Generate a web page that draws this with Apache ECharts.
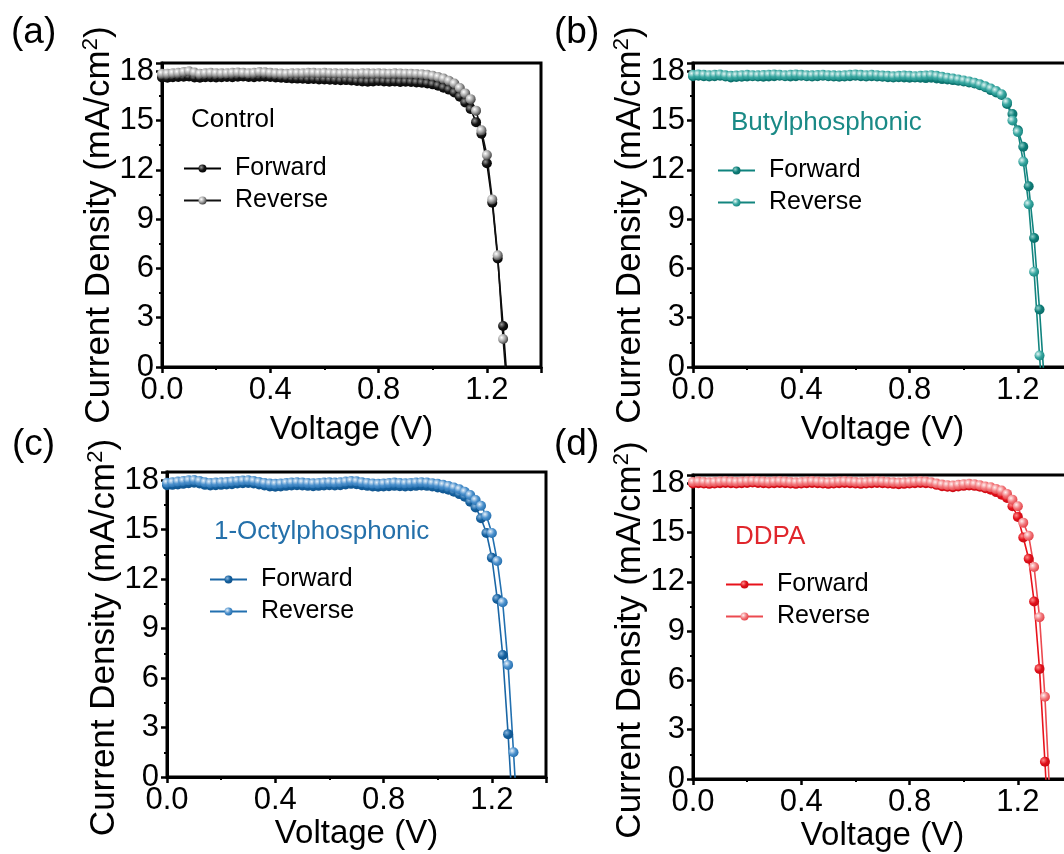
<!DOCTYPE html>
<html>
<head>
<meta charset="utf-8">
<title>J-V curves</title>
<script src="https://cdn.jsdelivr.net/npm/echarts@6/dist/echarts.min.js"></script>
<style>
    html,body{margin:0;padding:0;background:#fff;}
    #jv_chart{width:1064px;height:854px;}
</style>
</head>
<body>
<div id="jv_chart"></div>
<script>
// 电压扫描点 (V)
var voltage=[0.00,0.02,0.04,0.06,0.08,0.10,0.12,0.14,0.16,0.18,
    0.20,0.22,0.24,0.26,0.28,0.30,0.32,0.34,0.36,0.38,
    0.40,0.42,0.44,0.46,0.48,0.50,0.52,0.54,0.56,0.58,
    0.60,0.62,0.64,0.66,0.68,0.70,0.72,0.74,0.76,0.78,
    0.80,0.82,0.84,0.86,0.88,0.90,0.92,0.94,0.96,0.98,
    1.00,1.02,1.04,1.06,1.08,1.10,1.12,1.14,1.16,1.18,
    1.20,1.22,1.24,1.26,1.28,1.30,1.32];

// (a) Control
var a_forward=[17.62,17.60,17.63,17.65,17.66,17.68,17.62,17.60,17.63,17.64,
    17.62,17.63,17.65,17.64,17.66,17.68,17.65,17.64,17.66,17.67,
    17.65,17.62,17.60,17.58,17.56,17.55,17.54,17.52,17.53,17.50,
    17.50,17.48,17.47,17.45,17.46,17.44,17.40,17.38,17.36,17.38,
    17.40,17.38,17.36,17.37,17.35,17.36,17.34,17.32,17.30,17.26,
    17.20,17.12,17.00,16.88,16.70,16.45,16.10,15.70,14.90,14.20,
    12.40,10.00,6.60,2.50,-2.00];
var a_reverse=[17.85,17.85,17.88,17.90,17.95,18.00,17.92,17.85,17.88,17.90,
    17.88,17.87,17.88,17.90,17.92,17.90,17.88,17.90,17.95,17.93,
    17.90,17.87,17.86,17.85,17.88,17.88,17.88,17.90,17.90,17.88,
    17.90,17.88,17.87,17.86,17.87,17.86,17.85,17.88,17.87,17.86,
    17.87,17.86,17.85,17.87,17.86,17.85,17.85,17.83,17.82,17.78,
    17.72,17.65,17.55,17.42,17.25,16.98,16.65,16.30,15.60,14.40,
    12.90,10.20,6.80,1.70,-2.50];

// (b) Butylphosphonic
var b_forward=[17.70,17.72,17.70,17.68,17.70,17.72,17.68,17.62,17.65,17.66,
    17.68,17.70,17.68,17.66,17.68,17.70,17.72,17.70,17.68,17.70,
    17.72,17.70,17.68,17.70,17.72,17.70,17.68,17.66,17.68,17.70,
    17.72,17.70,17.68,17.70,17.68,17.66,17.64,17.62,17.63,17.62,
    17.60,17.62,17.60,17.58,17.60,17.56,17.52,17.50,17.46,17.42,
    17.38,17.32,17.25,17.15,17.02,16.85,16.70,16.55,16.00,15.40,
    14.40,13.40,11.00,7.85,3.50,-1.50];
var b_reverse=[17.78,17.80,17.78,17.76,17.78,17.80,17.75,17.72,17.74,17.76,
    17.78,17.76,17.75,17.77,17.78,17.80,17.78,17.76,17.78,17.80,
    17.78,17.76,17.75,17.77,17.78,17.76,17.75,17.74,17.76,17.78,
    17.80,17.78,17.76,17.78,17.76,17.74,17.72,17.70,17.72,17.74,
    17.72,17.70,17.72,17.74,17.76,17.72,17.66,17.60,17.55,17.50,
    17.44,17.38,17.30,17.20,17.08,16.95,16.80,16.60,16.10,15.00,
    14.30,12.50,9.90,5.80,0.70,-4.00];

// (c) 1-Octylphosphonic
var c_forward=[17.70,17.72,17.74,17.78,17.82,17.85,17.80,17.72,17.68,17.70,
    17.72,17.74,17.76,17.80,17.82,17.84,17.80,17.74,17.68,17.62,
    17.60,17.62,17.66,17.68,17.70,17.68,17.66,17.64,17.66,17.68,
    17.70,17.68,17.70,17.74,17.78,17.76,17.70,17.66,17.62,17.60,
    17.62,17.64,17.66,17.64,17.62,17.64,17.66,17.68,17.66,17.62,
    17.56,17.50,17.42,17.30,17.16,17.00,16.70,16.35,15.70,14.80,
    13.30,10.80,7.40,2.60,-3.00];
var c_reverse=[17.85,17.88,17.92,17.96,18.00,18.02,17.96,17.88,17.84,17.86,
    17.88,17.90,17.93,17.96,17.98,18.00,17.96,17.90,17.84,17.80,
    17.78,17.80,17.84,17.86,17.88,17.86,17.84,17.82,17.84,17.86,
    17.88,17.86,17.88,17.92,17.96,17.94,17.88,17.84,17.80,17.78,
    17.80,17.83,17.86,17.84,17.82,17.84,17.86,17.88,17.86,17.82,
    17.78,17.72,17.65,17.56,17.45,17.30,17.10,16.80,16.45,15.85,
    14.80,13.10,10.60,6.80,1.50,-4.00];

// (d) DDPA
var d_forward=[17.98,18.00,17.98,17.96,17.98,18.00,18.02,18.00,17.98,18.00,
    18.02,18.04,18.02,18.00,17.98,18.00,18.02,18.00,17.98,17.96,
    17.98,18.00,18.02,18.00,17.98,17.96,17.98,18.00,18.02,18.00,
    17.98,17.96,17.98,18.00,18.02,18.00,17.98,17.96,17.94,17.96,
    17.98,18.00,18.02,18.00,17.98,17.90,17.82,17.78,17.76,17.80,
    17.84,17.86,17.84,17.78,17.70,17.60,17.46,17.30,17.10,16.60,
    15.95,14.70,13.40,10.80,6.70,1.05,-5.00];
var d_reverse=[18.08,18.10,18.08,18.06,18.08,18.10,18.12,18.10,18.08,18.10,
    18.12,18.14,18.12,18.10,18.08,18.10,18.12,18.10,18.08,18.06,
    18.08,18.10,18.12,18.10,18.08,18.06,18.08,18.10,18.12,18.10,
    18.08,18.06,18.08,18.10,18.12,18.10,18.08,18.06,18.04,18.06,
    18.08,18.10,18.12,18.10,18.06,17.98,17.92,17.88,17.86,17.90,
    17.94,17.96,17.94,17.88,17.80,17.75,17.65,17.55,17.35,17.00,
    16.60,15.60,14.80,12.90,9.85,5.00,-1.70];

// 坐标轴
var x_range=[0,1.4], x_step=0.4;
var y_range=[0,18.5], y_step=3;
var sample_names=['Control','Butylphosphonic','1-Octylphosphonic','DDPA'];
var panel_tags=['(a)','(b)','(c)','(d)'];

var font='"Liberation Sans", Arial, sans-serif';

// 各子图的位置与颜色
var panels=[
    {grid:{left:162,top:63,width:379,height:304}, fwd:a_forward, rev:a_reverse,
        f_line:'#000', f_mark:['#9a9a9a','#151515','#000'], r_line:'#111', r_mark:['#ffffff','#a0a0a0','#2a2a2a'],
        text_color:'#000', name_gap:46, y_shift:20, tag_pos:[11,14], note_pos:[191,107], legend_pos:[183,156]},
    {grid:{left:693,top:63,width:379,height:304}, fwd:b_forward, rev:b_reverse,
        f_line:'#0f837e', f_mark:['#8fd0ca','#0e7e79','#0a6864'], r_line:'#13857f', r_mark:['#e4f6f4','#3aa8a2','#127f79'],
        text_color:'#1a8a86', name_gap:46, y_shift:20, tag_pos:[554,14], note_pos:[731,110], legend_pos:[717,158]},
    {grid:{left:167,top:472,width:379,height:305}, fwd:c_forward, rev:c_reverse,
        f_line:'#1a66a5', f_mark:['#8ab6de','#14609e','#0f5088'], r_line:'#2270b0', r_mark:['#eaf2fa','#4c91cd','#1e68a8'],
        text_color:'#2470aa', name_gap:40, y_shift:26, tag_pos:[12,426], note_pos:[214,519], legend_pos:[209,567]},
    {grid:{left:693,top:475,width:379,height:304}, fwd:d_forward, rev:d_reverse,
        f_line:'#e8121b', f_mark:['#ff8a8a','#e0101a','#c40a12'], r_line:'#ec4a50', r_mark:['#fff0f0','#f27a7e','#e0363c'],
        text_color:'#e0262c', name_gap:40, y_shift:26, tag_pos:[554,426], note_pos:[735,524], legend_pos:[725,572]}
];

function sphere(c) {
    return {type:'radial',x:0.35,y:0.35,r:0.75,
        colorStops:[{offset:0,color:c[0]},{offset:0.5,color:c[1]},{offset:1,color:c[2]}]};
}

function make_series(idx,name,values,line_color,mark) {
    return {
        type:'line',name:name,xAxisIndex:idx,yAxisIndex:idx,
        data:values.map(function (j,i) { return [voltage[i],j]; }),
        symbol:'circle',symbolSize:10,showSymbol:true,clip:true,
        lineStyle:{color:line_color,width:1.6},
        itemStyle:{color:sphere(mark)},
        emphasis:{disabled:true}
    };
}

var grids=[],x_axes=[],y_axes=[],series=[],legends=[],graphics=[];

panels.forEach(function (p,k) {
    var g=p.grid;
    grids.push({left:g.left,top:g.top,width:g.width,height:g.height,show:true,
        borderColor:'#000',borderWidth:3,outerBoundsMode:'none'});

    x_axes.push({
        gridIndex:k,type:'value',min:x_range[0],max:x_range[1],interval:x_step,
        axisLine:{show:true,onZero:false,lineStyle:{color:'#000',width:3}},
        axisTick:{show:true,inside:false,length:6,lineStyle:{color:'#000',width:2.5}},
        minorTick:{show:true,splitNumber:2,length:3,lineStyle:{color:'#000',width:2}},
        splitLine:{show:false},
        axisLabel:{fontSize:31,fontFamily:font,color:'#000',margin:8,showMaxLabel:false,
            formatter:function (v) { return v.toFixed(1); }},
        name:'Voltage (V)',nameLocation:'middle',nameGap:p.name_gap,nameMoveOverlap:false,
        nameTextStyle:{fontSize:33,fontFamily:font,color:'#000'}
    });

    // 纵轴标题稍微往下移一点
    y_axes.push({
        gridIndex:k,type:'value',min:y_range[0],max:y_range[1],interval:y_step,
        axisLine:{show:true,onZero:false,lineStyle:{color:'#000',width:3}},
        axisTick:{show:true,inside:false,length:6,lineStyle:{color:'#000',width:2.5}},
        minorTick:{show:true,splitNumber:2,length:3,lineStyle:{color:'#000',width:2}},
        splitLine:{show:false},
        axisLabel:{fontSize:31,fontFamily:font,color:'#000',margin:8,showMaxLabel:false},
        name:'{t|Current Density (mA/cm}{s|2}{t|)}',nameLocation:'middle',nameGap:44,
        nameMoveOverlap:false,
        nameTextStyle:{fontSize:35,fontFamily:font,color:'#000',padding:[0,p.y_shift,0,0],
            rich:{t:{fontSize:35,fontFamily:font,color:'#000',lineHeight:38},
                s:{fontSize:22,fontFamily:font,color:'#000',lineHeight:22,verticalAlign:'top'}}}
    });

    var f_name=panel_tags[k]+'_Forward', r_name=panel_tags[k]+'_Reverse';
    series.push(make_series(k,f_name,p.fwd,p.f_line,p.f_mark));
    series.push(make_series(k,r_name,p.rev,p.r_line,p.r_mark));

    legends.push({
        data:[f_name,r_name],left:p.legend_pos[0],top:p.legend_pos[1],orient:'vertical',
        itemWidth:37,itemHeight:10,itemGap:7,padding:0,selectedMode:false,
        formatter:function (n) { return n.split('_')[1]; },
        textStyle:{fontSize:25,fontFamily:font,color:'#000',lineHeight:25,padding:[0,0,0,9]}
    });

    // 子图编号和样品名
    graphics.push({type:'text',left:p.tag_pos[0],top:p.tag_pos[1],
        style:{text:panel_tags[k],fontSize:37,fontFamily:font,fill:'#000'}});
    graphics.push({type:'text',left:p.note_pos[0],top:p.note_pos[1],
        style:{text:sample_names[k],fontSize:26,fontFamily:font,fill:p.text_color}});
});

var jv_chart=echarts.init(document.getElementById('jv_chart'),null,{renderer:'canvas'});
jv_chart.setOption({
    animation:false,
    backgroundColor:'#fff',
    grid:grids,
    xAxis:x_axes,
    yAxis:y_axes,
    legend:legends,
    series:series,
    graphic:graphics
});
</script>
</body>
</html>
